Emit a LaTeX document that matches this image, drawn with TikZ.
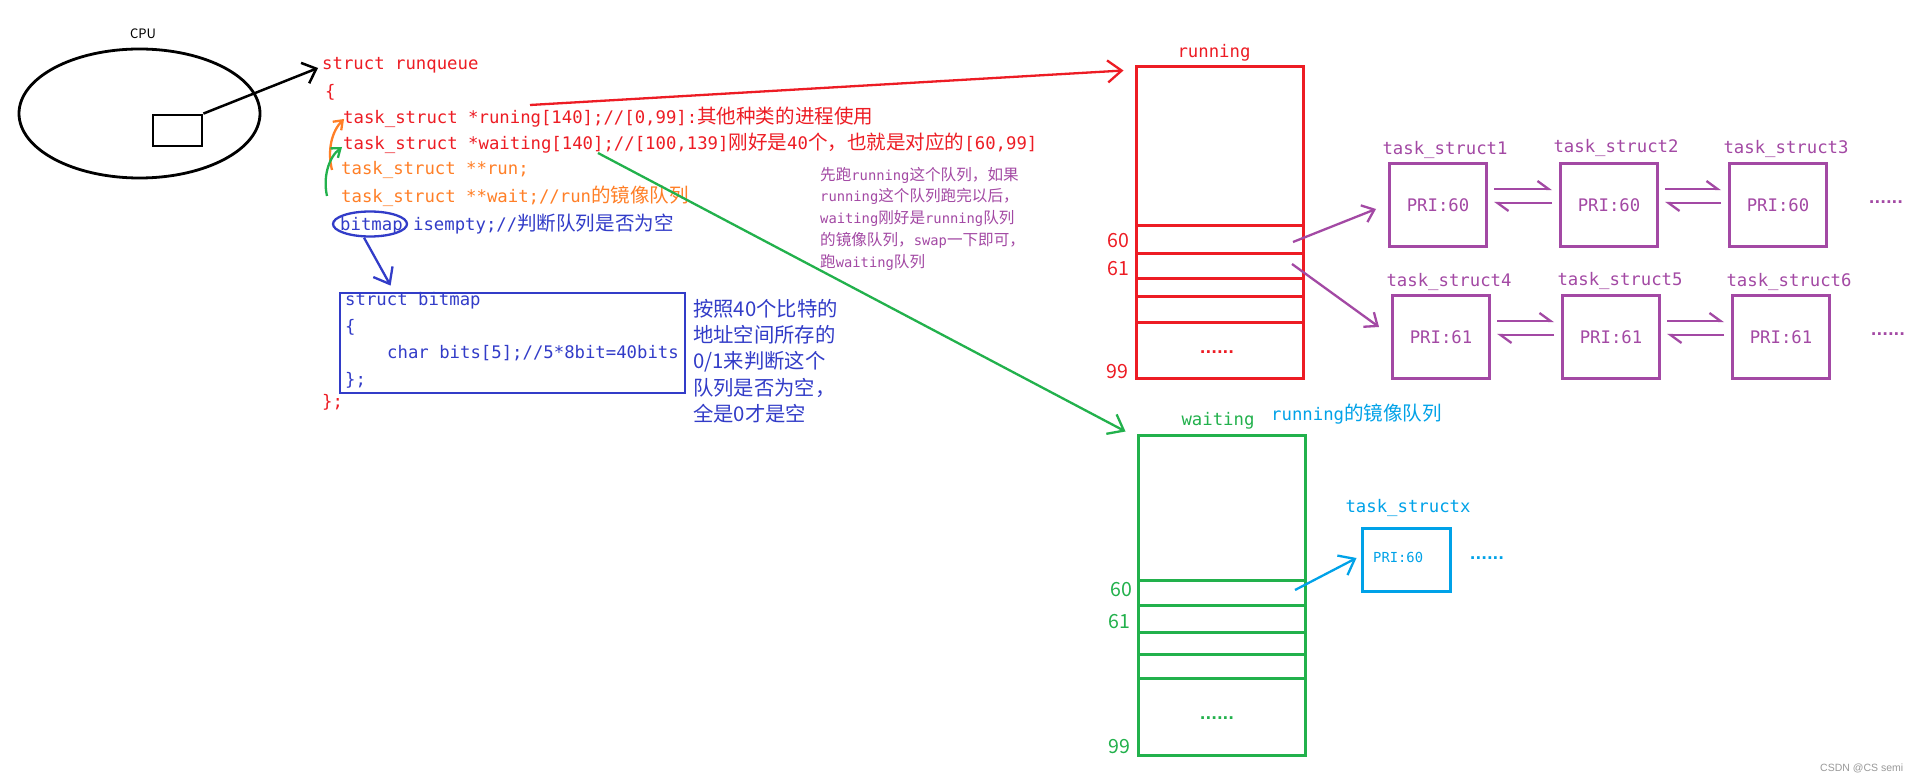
\documentclass[tikz,border=0pt]{standalone}
\usepackage{fontspec}
\usetikzlibrary{arrows.meta,shapes.geometric}
\newfontfamily\monofont{DejaVu Sans Mono}
\newfontfamily\dotfont{DejaVu Sans}
\newfontfamily\cjk[Scale=1.13]{Noto Sans CJK SC}
\newfontfamily\wmfont{Liberation Sans}
\newcommand{\zh}[1]{{\cjk #1}}
\newcommand{\codesize}{\fontsize{17.3}{20}\selectfont}
\definecolor{qred}{RGB}{237,28,36}
\definecolor{qorange}{RGB}{255,127,39}
\definecolor{qgreen}{RGB}{34,177,76}
\definecolor{qblue}{RGB}{50,60,200}
\definecolor{qpurple}{RGB}{163,73,164}
\definecolor{qcyan}{RGB}{0,162,232}
\begin{document}
\begin{tikzpicture}[x=1pt,y=-1pt,
  code/.style={font=\monofont\codesize,anchor=west,inner sep=0pt},
  numlab/.style={font=\fontsize{17.3}{20}\selectfont\cjk,inner sep=0pt},
  dots/.style={font=\dotfont\bfseries\fontsize{15}{16}\selectfont,inner sep=0pt},
  queue/.style={draw,line width=3pt,minimum width=167pt,inner sep=0pt},
  tbox/.style={draw=qpurple,line width=3pt,minimum width=97pt,minimum height=83pt,
               font=\monofont\codesize,text=qpurple,inner sep=0pt},
  tlab/.style={font=\monofont\codesize,text=qpurple,inner sep=0pt},
  arr/.style={-{Straight Barb[length=12pt,width=22pt]},line width=2.5pt},
  longarr/.style={-{Straight Barb[length=14pt,width=22pt]},line width=2.3pt},
  curvarr/.style={-{Straight Barb[length=8pt,width=12pt]},line width=2.3pt},
  parr/.style={-{Straight Barb[length=11pt,width=18pt]},line width=2.3pt,color=qpurple},
  harp/.style={-{Straight Barb[harpoon,length=11pt,width=16pt]},line width=2.3pt,color=qpurple}]
\fill[white] (0,0) rectangle (1931,783);
\useasboundingbox (0,0) rectangle (1931,783);
% CPU
\node[draw,ellipse,line width=2.8pt,minimum width=241pt,minimum height=129pt] (cpu) at (139.5,113.5) {};
\node[font=\fontsize{11.5}{13}\selectfont\cjk] (cpulab) at (143,34) {CPU};
\node[draw,line width=2.8pt,minimum width=49pt,minimum height=31pt] (core) at (177.5,130.5) {};
% struct runqueue
\node[code,text=qred] (rq) at (322,65) {struct runqueue};
\node[code,text=qred] (lb) at (325,92) {\{};
\node[code,text=qred] (runing) at (343,117) {task\_struct *runing[140];//[0,99]:\zh{其他种类的进程使用}};
\node[code,text=qred] (waiting) at (343,143) {task\_struct *waiting[140];//[100,139]\zh{刚好是}40\zh{个，也就是对应的}[60,99]};
\node[code,text=qorange] (run) at (341,170) {task\_struct **run;};
\node[code,text=qorange] (wait) at (341,196) {task\_struct **wait;//run\zh{的镜像队列}};
\node[code,text=qblue] (isempty) at (340,224) {bitmap isempty;//\zh{判断队列是否为空}};
\node[draw=qblue,ellipse,line width=2.3pt,minimum width=74pt,minimum height=25pt] (bmring) at (370,224) {};
\node[code,text=qred] (rb) at (322,402) {\};};
% struct bitmap
\node[draw=qblue,line width=2.8pt,minimum width=345pt,minimum height=100pt] (bmbox) at (512.5,343) {};
\node[code,text=qblue] (bmname) at (345,301) {struct bitmap};
\node[code,text=qblue] (bmlb) at (345,327) {\{};
\node[code,text=qblue] (bmbits) at (387,353) {char bits[5];//5*8bit=40bits};
\node[code,text=qblue] (bmrb) at (345,380) {\};};
\node[font=\fontsize{18}{26.3}\selectfont\cjk,text=qblue,align=left,anchor=west,inner sep=0pt] (bmnote) at (693,361)
  {按照40个比特的\\地址空间所存的\\0/1来判断这个\\队列是否为空，\\全是0才是空};
% swap note
\node[font=\monofont\fontsize{13.8}{21.75}\selectfont,text=qpurple,align=left,anchor=west,inner sep=0pt] (swapnote) at (820,218.5)
  {\zh{先跑}running\zh{这个队列，如果}\\running\zh{这个队列跑完以后，}\\waiting\zh{刚好是}running\zh{队列}\\\zh{的镜像队列，}swap\zh{一下即可，}\\\zh{跑}waiting\zh{队列}};
% running queue
\node[queue,draw=qred,minimum height=312pt] (runq) at (1219.5,223) {};
\foreach \y in {226,254,279,297,323} \draw[qred,line width=3pt] (1136,\y) -- (1303,\y);
\node[code,anchor=center,text=qred] (runqlab) at (1214,53) {running};
\node[numlab,text=qred] (r60lab) at (1118,241) {60};
\node[numlab,text=qred] (r61lab) at (1118,269) {61};
\node[numlab,text=qred] (r99lab) at (1117,372) {99};
\node[dots,text=qred] (rdots) at (1217,352) {......};
% waiting queue
\node[queue,draw=qgreen,minimum height=319pt] (waitq) at (1221.5,595.5) {};
\foreach \y in {580,605,632,654,678} \draw[qgreen,line width=3pt] (1138,\y) -- (1305,\y);
\node[code,anchor=center,text=qgreen] (waitqlab) at (1218,421) {waiting};
\node[code,text=qcyan] (mirror) at (1271,414) {running\zh{的镜像队列}};
\node[numlab,text=qgreen] (w60lab) at (1121,590) {60};
\node[numlab,text=qgreen] (w61lab) at (1119,622) {61};
\node[numlab,text=qgreen] (w99lab) at (1119,747) {99};
\node[dots,text=qgreen] (wdots) at (1217,718) {......};
% task_struct lists
\node[tbox] (b1) at (1438,205) {PRI:60};
\node[tbox] (b2) at (1609,205) {PRI:60};
\node[tbox] (b3) at (1778,205) {PRI:60};
\node[tbox] (b4) at (1441,337) {PRI:61};
\node[tbox] (b5) at (1611,337) {PRI:61};
\node[tbox] (b6) at (1781,337) {PRI:61};
\node[tlab] (b1lab) at (1445,150) {task\_struct1};
\node[tlab] (b2lab) at (1616,148) {task\_struct2};
\node[tlab] (b3lab) at (1786,149) {task\_struct3};
\node[tlab] (b4lab) at (1449,282) {task\_struct4};
\node[tlab] (b5lab) at (1620,281) {task\_struct5};
\node[tlab] (b6lab) at (1789,282) {task\_struct6};
\node[dots,text=qpurple] (pdots1) at (1886,202) {......};
\node[dots,text=qpurple] (pdots2) at (1888,334) {......};
% task_structx
\node[draw=qcyan,line width=3pt,minimum width=88pt,minimum height=63pt] (tx) at (1406,559.5) {};
\node[font=\monofont\fontsize{13.8}{16}\selectfont,text=qcyan,anchor=west,inner sep=0pt] (txpri) at (1373,557) {PRI:60};
\node[code,anchor=center,text=qcyan] (txlab) at (1408,508) {task\_structx};
\node[dots,text=qcyan] (cdots) at (1487,558) {......};
% pointers
\coordinate (runptr) at (530,105);
\coordinate (waitptr) at (598,153);
\coordinate (r60) at (1293,242);
\coordinate (r61) at (1292,264);
\coordinate (w60) at (1295,590);
\draw[arr] (core.north east) -- ([xshift=-4pt,yshift=-3pt]rq.west);
\draw[longarr,qred] (runptr) -- ([xshift=-11pt,yshift=-5pt]runq.north west);
\draw[longarr,qgreen] (waitptr) -- ([xshift=-11pt,yshift=3pt]waitq.north west);
\draw[curvarr,qorange] ([xshift=-9pt]run.west) .. controls +(-5,-20) and +(-12,12) .. ([xshift=1pt,yshift=-2pt]runing.west);
\draw[curvarr,qgreen] ([xshift=-14pt]wait.west) .. controls +(-4,-18) and +(-14,11) .. ([xshift=-1pt,yshift=-4pt]waiting.west);
\draw[longarr,qblue] ([xshift=-6pt]bmring.south) -- ([xshift=52pt,yshift=6pt]bmbox.north west);
\draw[parr] (r60) -- ([xshift=-12pt,yshift=-4pt]b1.west);
\draw[parr] (r61) -- ([xshift=-12pt,yshift=10pt]b4.west);
\draw[longarr,qcyan] (w60) -- ([xshift=-4pt,yshift=1.5pt]tx.west);
\draw[harp] ([xshift=6pt,yshift=16pt]b1.east) -- ([xshift=-7pt,yshift=16pt]b2.west);
\draw[harp] ([xshift=-7pt,yshift=2pt]b2.west) -- ([xshift=6pt,yshift=2pt]b1.east);
\draw[harp] ([xshift=6pt,yshift=16pt]b2.east) -- ([xshift=-7pt,yshift=16pt]b3.west);
\draw[harp] ([xshift=-7pt,yshift=2pt]b3.west) -- ([xshift=6pt,yshift=2pt]b2.east);
\draw[harp] ([xshift=6pt,yshift=16pt]b4.east) -- ([xshift=-7pt,yshift=16pt]b5.west);
\draw[harp] ([xshift=-7pt,yshift=2pt]b5.west) -- ([xshift=6pt,yshift=2pt]b4.east);
\draw[harp] ([xshift=6pt,yshift=16pt]b5.east) -- ([xshift=-7pt,yshift=16pt]b6.west);
\draw[harp] ([xshift=-7pt,yshift=2pt]b6.west) -- ([xshift=6pt,yshift=2pt]b5.east);
\node[font=\wmfont\fontsize{10.5}{12}\selectfont,text=gray!80,anchor=west,inner sep=0pt] (wm) at (1820,768) {CSDN @CS semi};
\end{tikzpicture}
\end{document}
